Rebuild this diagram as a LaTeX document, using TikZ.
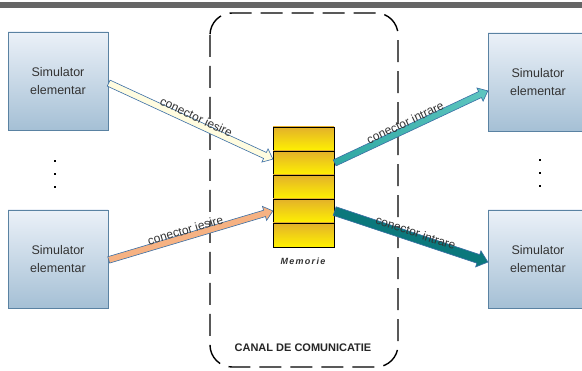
\documentclass[tikz,border=0pt]{standalone}
\usepackage{fontspec}
\setmainfont{Liberation Sans}
\usetikzlibrary{shapes.arrows,calc}
\definecolor{boxtop}{HTML}{EBF1F8}
\definecolor{boxbot}{HTML}{A5C0D5}
\definecolor{boxline}{HTML}{5A82A2}
\definecolor{txtgray}{HTML}{333333}
\definecolor{celltop}{HTML}{E3B12A}
\definecolor{cellbot}{HTML}{FFF200}
\definecolor{arrline}{HTML}{3A6EA5}
\definecolor{cream}{HTML}{FFFCE0}
\definecolor{orangef}{HTML}{F6B283}
\definecolor{tealA}{HTML}{2FA7A3}
\definecolor{tealB}{HTML}{5EC6C0}
\definecolor{tealdark}{HTML}{0B787C}
\definecolor{barcol}{HTML}{666666}
\newcommand\fatarrow[4]{%
  \path let \p1=($(#3)-(#2)$), \n1={veclen(\x1,\y1)} in (#2) -- (#3)
    node[pos=0, sloped, anchor=tail, single arrow, minimum height=\n1, #1] (#4) {};}
\begin{document}
\begin{tikzpicture}[x=1pt,y=-1pt,
  simbox/.style={draw=boxline, line width=0.8pt, top color=boxtop, bottom color=boxbot,
    minimum width=100pt, minimum height=98pt, align=center, text=txtgray,
    font=\fontsize{12.5}{17.5}\selectfont},
  cell/.style={draw=black, line width=0.8pt, top color=celltop, bottom color=cellbot,
    minimum width=61pt, minimum height=24pt, inner sep=0pt},
  fat/.style={draw=arrline, line width=0.6pt, inner sep=3pt, single arrow head extend=4pt,
    single arrow tip angle=80, single arrow head indent=0pt},
  lbl/.style={font=\fontsize{12}{13}\selectfont, text=txtgray, inner sep=0pt},
  dotsq/.style={fill=black, minimum size=2.6pt, inner sep=0pt}]
\path[use as bounding box] (0,0) rectangle (582,371);
\clip (0,0) rectangle (582,371);
\fill[white] (0,0) rectangle (582,371);
\fill[barcol] (0,2) rectangle (582,8.5);
% channel
\draw[line width=1.4pt, dash pattern=on 22pt off 9pt, rounded corners=22pt] (210,13) rectangle (398,367);
\node[font=\bfseries\fontsize{11}{12}\selectfont, text=black!85] (canal) at (303,348) {CANAL DE COMUNICATIE};
% simulators
\node[simbox] (l1) at (58,81) {Simulator\\elementar};
\node[simbox] (l2) at (58,259) {Simulator\\elementar};
\node[simbox] (r1) at (538,82) {Simulator\\elementar};
\node[simbox] (r2) at (538,259) {Simulator\\elementar};
% dots
\node[dotsq] (ld1) at (55,161) {};
\node[dotsq] (ld2) at (55,174) {};
\node[dotsq] (ld3) at (55,187) {};
\node[dotsq] (rd1) at (540,160) {};
\node[dotsq] (rd2) at (540,173) {};
\node[dotsq] (rd3) at (540,186) {};
% memory
\node[cell] (m1) at (303.5,139) {};
\node[cell] (m2) at (303.5,163) {};
\node[cell] (m3) at (303.5,187) {};
\node[cell] (m4) at (303.5,211) {};
\node[cell] (m5) at (303.5,235) {};
\node[font=\bfseries\itshape\fontsize{9}{10}\selectfont\addfontfeature{LetterSpace=14}, text=black!80] (mem) at (303,261) {Memorie};
% connectors
\coordinate (a1s) at ($(l1.east)+(0,2)$);
\coordinate (a1e) at ($(m2.west)+(0,-4)$);
\coordinate (a2s) at ($(l2.east)+(0,1)$);
\coordinate (a2e) at (m4.west);
\coordinate (a3s) at (m2.east);
\coordinate (a3e) at ($(r1.west)+(0,9)$);
\coordinate (a4s) at (m4.east);
\coordinate (a4e) at ($(r2.west)+(0,3)$);
\fatarrow{fat, fill=cream}{a1s}{a1e}{c1}
\fatarrow{fat, fill=orangef}{a2s}{a2e}{c2}
\fatarrow{fat, left color=tealA, right color=tealB}{a3s}{a3e}{c3}
\fatarrow{fat, fill=tealdark, inner sep=4.2pt, single arrow head extend=4pt}{a4s}{a4e}{c4}
\path (a1s) -- (a1e) node[lbl, pos=0.52, sloped, above=1.5pt] (t1) {conector iesire};
\path (a2s) -- (a2e) node[lbl, pos=0.48, sloped, above=2pt] (t2) {conector iesire};
\path (a3s) -- (a3e) node[lbl, pos=0.48, sloped, above=2pt] (t3) {conector intrare};
\path (a4s) -- (a4e) node[lbl, pos=0.52, sloped, above=0.5pt] (t4) {conector intrare};
\end{tikzpicture}
\end{document}
